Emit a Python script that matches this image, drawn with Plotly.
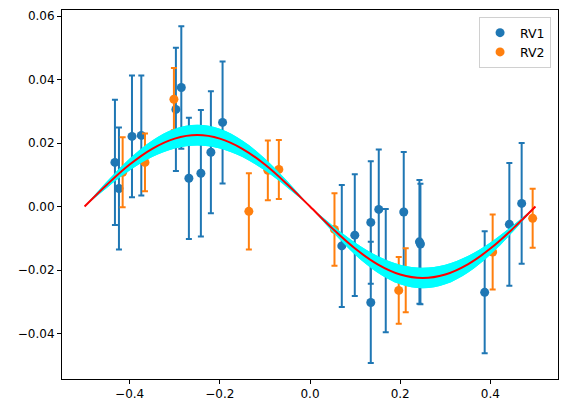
import plotly.graph_objects as go

# RV1 data (phase, RV, error)
rv1_x = [-0.4326, -0.4237, -0.3948, -0.3741, -0.2974, -0.2854, -0.2686, -0.2420, -0.2198, -0.1939,
         0.0705, 0.0993, 0.1348, 0.1348, 0.1525, 0.1680, 0.2079, 0.2427, 0.2449, 0.3874, 0.4421, 0.4694]
rv1_y = [0.0139, 0.0057, 0.0221, 0.0224, 0.0306, 0.0375, 0.0089, 0.0105, 0.0171, 0.0265,
         -0.0124, -0.0090, -0.0050, -0.0302, -0.0009, -0.0202, -0.0017, -0.0111, -0.0118, -0.0270, -0.0056, 0.0010]
rv1_err = [0.0197, 0.0192, 0.0192, 0.0189, 0.0194, 0.0193, 0.0191, 0.0199, 0.0192, 0.0192,
           0.0192, 0.0192, 0.0193, 0.0191, 0.0189, 0.0194, 0.0189, 0.0195, 0.0190, 0.0192, 0.0193, 0.0190]

# RV2 data
rv2_x = [-0.4155, -0.3660, -0.3018, -0.1356, -0.0935, -0.0691, 0.0543, 0.1968, 0.2123, 0.4051, 0.4938]
rv2_y = [0.0108, 0.0139, 0.0338, -0.0015, 0.0114, 0.0117, -0.0072, -0.0264, -0.0232, -0.0143, -0.0037]
rv2_err = [0.0110, 0.0091, 0.0098, 0.0120, 0.0094, 0.0093, 0.0114, 0.0105, 0.0101, 0.0118, 0.0093]

# model curve
model_x = [-0.50, -0.45, -0.40, -0.35, -0.30, -0.25, -0.20, -0.15, -0.10, -0.05, 0.00,
           0.05, 0.10, 0.15, 0.20, 0.25, 0.30, 0.35, 0.40, 0.45, 0.50]
model_y = [0.0, 0.00695, 0.01323, 0.01820, 0.02140, 0.0225, 0.02140, 0.01820, 0.01323, 0.00695, 0.0,
           -0.00695, -0.01323, -0.01820, -0.02140, -0.0225, -0.02140, -0.01820, -0.01323, -0.00695, 0.0]
band_outer = [0.0, 0.00796, 0.01514, 0.02083, 0.02449, 0.02575, 0.02449, 0.02083, 0.01514, 0.00796, 0.0,
              -0.00796, -0.01514, -0.02083, -0.02449, -0.02575, -0.02449, -0.02083, -0.01514, -0.00796, 0.0]
band_inner = [0.0, 0.00595, 0.01132, 0.01557, 0.01831, 0.01925, 0.01831, 0.01557, 0.01132, 0.00595, 0.0,
              -0.00595, -0.01132, -0.01557, -0.01831, -0.01925, -0.01831, -0.01557, -0.01132, -0.00595, 0.0]

x_ticks = [-0.4, -0.2, 0.0, 0.2, 0.4]
y_ticks = [-0.04, -0.02, 0.0, 0.02, 0.04, 0.06]

BLUE = "#1f77b4"
ORANGE = "#ff7f0e"
CYAN = "#00ffff"

fig = go.Figure()


def add_band(opacity):
    fig.add_trace(go.Scatter(x=model_x, y=band_outer, mode="lines", line=dict(width=0, shape="spline"),
                             showlegend=False, hoverinfo="skip", opacity=opacity))
    fig.add_trace(go.Scatter(x=model_x, y=band_inner, mode="lines", line=dict(width=0, shape="spline"),
                             fill="tonexty", fillcolor=CYAN, showlegend=False, hoverinfo="skip",
                             opacity=opacity))


add_band(1.0)

fig.add_trace(go.Scatter(x=rv1_x, y=rv1_y, mode="markers", name="RV1",
                         marker=dict(color=BLUE, size=9),
                         error_y=dict(type="data", array=rv1_err, visible=True, color=BLUE,
                                      thickness=2, width=3)))
fig.add_trace(go.Scatter(x=rv2_x, y=rv2_y, mode="markers", name="RV2",
                         marker=dict(color=ORANGE, size=9),
                         error_y=dict(type="data", array=rv2_err, visible=True, color=ORANGE,
                                      thickness=2, width=3)))

add_band(0.25)

fig.add_trace(go.Scatter(x=model_x, y=model_y, mode="lines", line=dict(color="red", width=2, shape="spline"),
                         showlegend=False, hoverinfo="skip"))

axis_common = dict(showline=True, linecolor="black", linewidth=1, mirror=True, ticks="outside",
                   ticklen=4, tickcolor="black", tickwidth=1, showgrid=False, zeroline=False,
                   tickfont=dict(family="DejaVu Sans", size=12, color="black"))

fig.update_xaxes(range=[-0.55, 0.55], tickvals=x_ticks, tickformat=".1f", **axis_common)
fig.update_yaxes(range=[-0.0543, 0.0619], tickvals=y_ticks, tickformat=".2f", **axis_common)

fig.update_layout(
    width=567, height=413,
    margin=dict(l=62, r=9, t=10, b=34),
    plot_bgcolor="white", paper_bgcolor="white",
    font=dict(family="DejaVu Sans", size=12, color="black"),
    legend=dict(x=0.986, y=0.981, xanchor="right", yanchor="top", traceorder="normal",
                bordercolor="#d0d0d0", borderwidth=1, bgcolor="rgba(255,255,255,0.8)",
                font=dict(size=12.5)),
)

fig.write_html("out.html")
